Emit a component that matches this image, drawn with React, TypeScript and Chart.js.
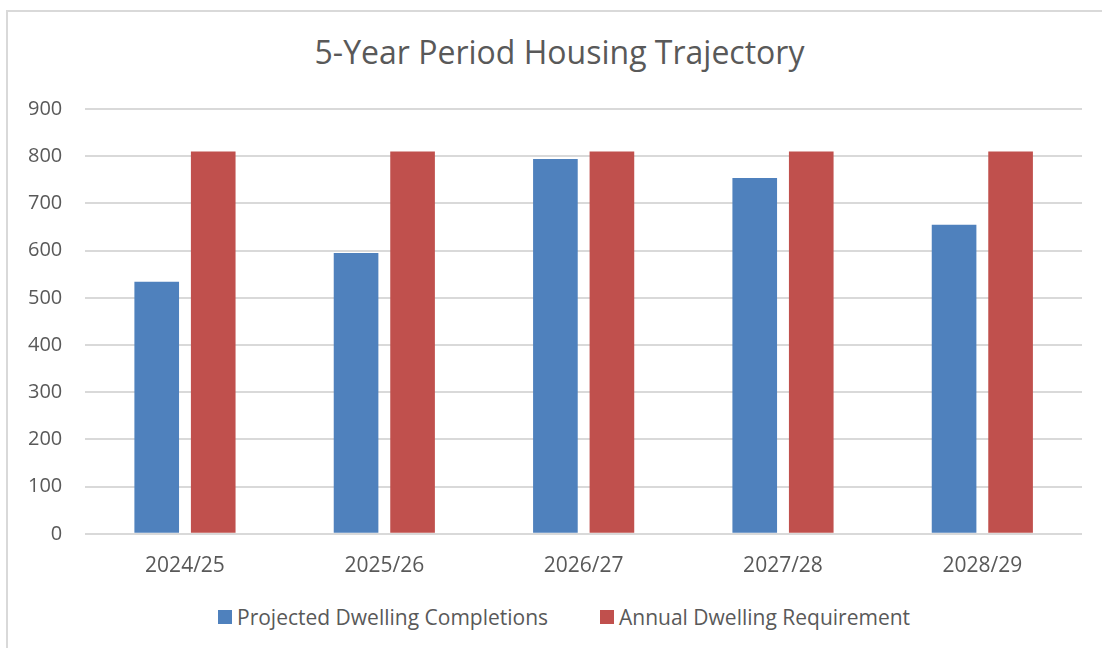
import React, { useEffect, useRef } from "react";
import { Chart, registerables } from "chart.js";

Chart.register(...registerables);

const categories = ["2024/25", "2025/26", "2026/27", "2027/28", "2028/29"];
const projectedCompletions = [534, 595, 794, 754, 655];
const annualRequirement = [810, 810, 810, 810, 810];
const yTicks = [0, 100, 200, 300, 400, 500, 600, 700, 800, 900];
const seriesNames = ["Projected Dwelling Completions", "Annual Dwelling Requirement"];
const seriesColors = ["#4f81bd", "#c0504d"];
const titleText = "5-Year Period Housing Trajectory";

const FONT = "'Open Sans', sans-serif";
const TEXT = "#595959";

export default function App() {
  const ref = useRef<HTMLCanvasElement | null>(null);
  useEffect(() => {
    if (!ref.current) return;
    const chart = new Chart(ref.current, {
      type: "bar",
      data: {
        labels: categories,
        datasets: [
          {
            label: seriesNames[0],
            data: projectedCompletions,
            backgroundColor: seriesColors[0],
            categoryPercentage: 0.567,
            barPercentage: 0.79,
          },
          {
            label: seriesNames[1],
            data: annualRequirement,
            backgroundColor: seriesColors[1],
            categoryPercentage: 0.567,
            barPercentage: 0.79,
          },
        ],
      },
      options: {
        animation: false,
        responsive: false,
        maintainAspectRatio: false,
        layout: { padding: { top: 109, left: 5, right: 20, bottom: 3 } },
        plugins: {
          title: { display: false },
          legend: { display: false },
          tooltip: { enabled: false },
        },
        scales: {
          x: {
            grid: { display: false, drawTicks: false },
            border: { display: false },
            ticks: { color: TEXT, font: { family: FONT, size: 21 }, padding: 20 },
          },
          y: {
            min: 0,
            max: 900,
            afterBuildTicks: (axis: any) => {
              axis.ticks = yTicks.map((v) => ({ value: v }));
            },
            grid: { color: "#d9d9d9", lineWidth: 2, drawTicks: false },
            border: { display: false },
            ticks: { color: TEXT, font: { family: FONT, size: 20 }, padding: 23 },
          },
        },
      },
    });
    return () => chart.destroy();
  }, []);

  const legendItem = (i: number, left: number) => (
    <div
      key={i}
      style={{
        position: "absolute",
        left,
        top: 605,
        height: 24,
        display: "flex",
        alignItems: "center",
        whiteSpace: "nowrap",
      }}
    >
      <span style={{ display: "inline-block", width: 14, height: 14, background: seriesColors[i] }} />
      <span style={{ marginLeft: 5, fontFamily: FONT, fontSize: 21, color: TEXT, lineHeight: "24px" }}>
        {seriesNames[i]}
      </span>
    </div>
  );

  return (
    <div style={{ position: "absolute", left: 0, top: 0, width: 1102, height: 648, background: "#fff", overflow: "hidden" }}>
      <div
        style={{
          position: "absolute",
          left: 6,
          top: 10,
          width: 1110,
          height: 660,
          border: "2px solid #d9d9d9",
          boxSizing: "border-box",
        }}
      />
      <div
        style={{
          position: "absolute",
          left: 0,
          top: 33,
          width: 1119,
          textAlign: "center",
          fontFamily: FONT,
          fontSize: 32,
          lineHeight: "38px",
          color: TEXT,
          whiteSpace: "nowrap",
        }}
      >
        {titleText}
      </div>
      <canvas ref={ref} width={1102} height={602} style={{ position: "absolute", left: 0, top: 0 }} />
      {legendItem(0, 218)}
      {legendItem(1, 600)}
    </div>
  );
}
